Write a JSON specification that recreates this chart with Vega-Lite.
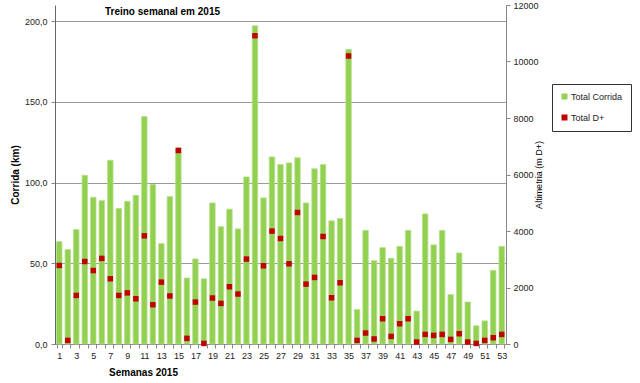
{
  "$schema": "https://vega.github.io/schema/vega-lite/v6.json",
  "width": 451,
  "height": 339,
  "autosize": {"type": "none"},
  "padding": {"left": 55, "top": 5, "right": 134, "bottom": 39},
  "background": "white",
  "title": {"text": "Treino semanal em 2015", "anchor": "middle", "frame": "group", "dx": -118, "offset": -16, "fontSize": 10, "font": "Liberation Sans", "fontWeight": "bold", "color": "#000"},
  "config": {
    "view": {"stroke": null},
    "locale": {"number": {"decimal": ",", "thousands": ".", "grouping": [3], "currency": ["", " €"]}},
    "axis": {"labelFont": "Liberation Sans", "labelFontSize": 9, "labelColor": "#222", "titleFont": "Liberation Sans", "titleColor": "#000", "domainColor": "#888", "tickColor": "#888", "tickSize": 4}
  },
  "data": {"values": [
    {"week": 1, "corrida": 63.4, "dplus": 2780},
    {"week": 2, "corrida": 58.5, "dplus": 127},
    {"week": 3, "corrida": 70.9, "dplus": 1720},
    {"week": 4, "corrida": 104.5, "dplus": 2920},
    {"week": 5, "corrida": 90.9, "dplus": 2600},
    {"week": 6, "corrida": 88.8, "dplus": 3030},
    {"week": 7, "corrida": 113.8, "dplus": 2310},
    {"week": 8, "corrida": 83.9, "dplus": 1720},
    {"week": 9, "corrida": 88.4, "dplus": 1810},
    {"week": 10, "corrida": 92.1, "dplus": 1600},
    {"week": 11, "corrida": 140.9, "dplus": 3830},
    {"week": 12, "corrida": 98.8, "dplus": 1390},
    {"week": 13, "corrida": 62.2, "dplus": 2190},
    {"week": 14, "corrida": 91.3, "dplus": 1700},
    {"week": 15, "corrida": 121.5, "dplus": 6850},
    {"week": 16, "corrida": 40.9, "dplus": 200},
    {"week": 17, "corrida": 52.7, "dplus": 1485},
    {"week": 18, "corrida": 40.4, "dplus": 20},
    {"week": 19, "corrida": 87.4, "dplus": 1627},
    {"week": 20, "corrida": 72.7, "dplus": 1436},
    {"week": 21, "corrida": 83.5, "dplus": 2026},
    {"week": 22, "corrida": 71.3, "dplus": 1768},
    {"week": 23, "corrida": 103.5, "dplus": 3006},
    {"week": 24, "corrida": 197.1, "dplus": 10913},
    {"week": 25, "corrida": 90.5, "dplus": 2769},
    {"week": 26, "corrida": 115.9, "dplus": 3996},
    {"week": 27, "corrida": 111.2, "dplus": 3735},
    {"week": 28, "corrida": 112.2, "dplus": 2840},
    {"week": 29, "corrida": 115.3, "dplus": 4655},
    {"week": 30, "corrida": 87.4, "dplus": 2120},
    {"week": 31, "corrida": 108.5, "dplus": 2356},
    {"week": 32, "corrida": 111.2, "dplus": 3805},
    {"week": 33, "corrida": 76.3, "dplus": 1637},
    {"week": 34, "corrida": 77.7, "dplus": 2168},
    {"week": 35, "corrida": 182.5, "dplus": 10195},
    {"week": 36, "corrida": 21.3, "dplus": 127},
    {"week": 37, "corrida": 70.4, "dplus": 389},
    {"week": 38, "corrida": 51.6, "dplus": 177},
    {"week": 39, "corrida": 59.7, "dplus": 895},
    {"week": 40, "corrida": 53.1, "dplus": 269},
    {"week": 41, "corrida": 60.5, "dplus": 718},
    {"week": 42, "corrida": 70.4, "dplus": 895},
    {"week": 43, "corrida": 20.4, "dplus": 70},
    {"week": 44, "corrida": 80.6, "dplus": 340},
    {"week": 45, "corrida": 61.4, "dplus": 304},
    {"week": 46, "corrida": 70.4, "dplus": 340},
    {"week": 47, "corrida": 30.6, "dplus": 163},
    {"week": 48, "corrida": 56.4, "dplus": 364},
    {"week": 49, "corrida": 26.0, "dplus": 70},
    {"week": 50, "corrida": 11.3, "dplus": 20},
    {"week": 51, "corrida": 14.3, "dplus": 127},
    {"week": 52, "corrida": 45.6, "dplus": 223},
    {"week": 53, "corrida": 60.5, "dplus": 340}
  ]},
  "encoding": {
    "x": {"field": "week", "type": "ordinal", "scale": {"paddingInner": 0.36, "paddingOuter": 0.18},
      "axis": {"title": "Semanas 2015", "titleFontSize": 10, "titleFontWeight": "bold", "titleX": 88, "titleY": 28, "titleAlign": "center", "titleBaseline": "middle", "labelAngle": 0, "tickBand": "extent", "labelPadding": 3, "labelOverlap": false, "labelExpr": "datum.value % 2 == 1 ? datum.label : ''", "domainColor": "#888"}}
  },
  "layer": [
    {
      "mark": {"type": "bar", "stroke": "#b5e08a", "strokeWidth": 0.8},
      "encoding": {
        "y": {"field": "corrida", "type": "quantitative", "scale": {"domain": [0, 210], "nice": false},
          "axis": {"title": "Corrida (km)", "titleFontSize": 10, "titleFontWeight": "bold", "titlePadding": 4, "values": [0, 50, 100, 150, 200], "format": ".1f", "grid": true, "gridColor": "#999", "domainColor": "#666", "labelPadding": 4}},
        "color": {"datum": "Total Corrida", "type": "nominal",
          "scale": {"domain": ["Total Corrida", "Total D+"], "range": ["#92D050", "#C00000"]},
          "legend": {"title": null, "orient": "none", "legendX": 497, "legendY": 79, "symbolType": "square", "symbolSize": 36, "labelFont": "Liberation Sans", "labelFontSize": 9, "labelColor": "#222", "rowPadding": 11, "padding": 8, "strokeColor": "#333", "fillColor": "white", "symbolStrokeWidth": 0, "labelOffset": 2, "labelLimit": 60}}
      }
    },
    {
      "mark": {"type": "point", "shape": "square", "filled": true, "size": 30, "opacity": 1},
      "encoding": {
        "y": {"field": "dplus", "type": "quantitative", "scale": {"domain": [0, 12000], "nice": false},
          "axis": {"orient": "right", "title": "Altimetria (m D+)", "titleFontSize": 9, "titleFontWeight": "normal", "titleAngle": 270, "titlePadding": 5, "values": [0, 2000, 4000, 6000, 8000, 10000, 12000], "format": "d", "grid": false, "labelPadding": 3}},
        "color": {"datum": "Total D+", "type": "nominal"}
      }
    }
  ],
  "resolve": {"scale": {"y": "independent"}}
}
